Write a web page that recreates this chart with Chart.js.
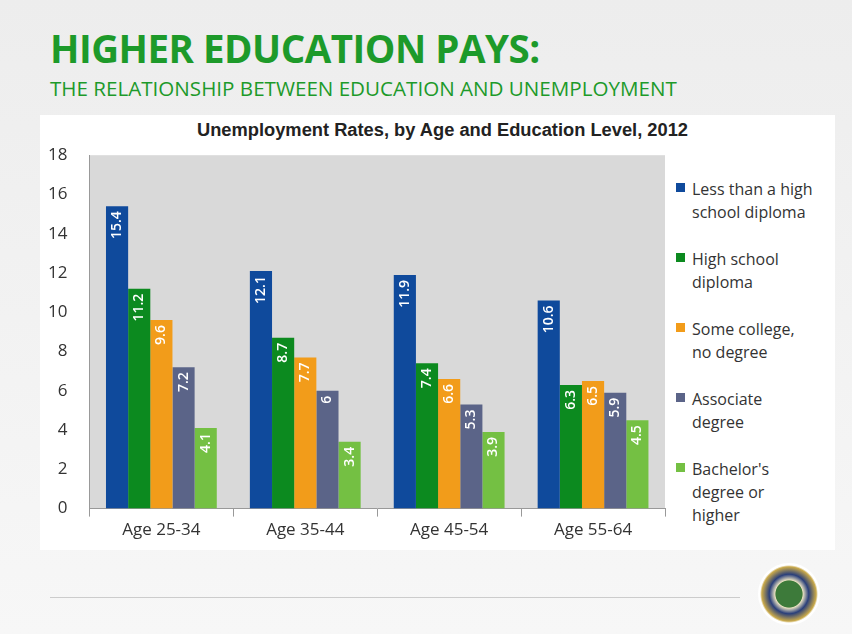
<!DOCTYPE html>
<html><head><meta charset="utf-8">
<script src="https://cdn.jsdelivr.net/npm/chart.js@4"></script>
<style>
body{margin:0;width:852px;height:634px;background:linear-gradient(#ededed,#f7f7f7);font-family:"Open Sans",sans-serif;position:relative;overflow:hidden}
#t1{position:absolute;left:50px;top:22px;font:bold 38.5px "Open Sans";color:#1d9a2a;letter-spacing:-0.5px}
#t2{position:absolute;left:50px;top:74px;font:20.6px "Open Sans";color:#1d9a2a}
#panel{position:absolute;left:40px;top:115px;width:795px;height:435px;background:#fff}
#ct{position:absolute;left:197px;top:119px;font:bold 18.3px "Liberation Sans",Arial;color:#222;white-space:nowrap}
#wrap{position:absolute;left:34px;top:131px;width:636px;height:412px}
#leg{position:absolute;left:676px;top:178px;font:16px "Open Sans";color:#333;line-height:23px}
#leg div{position:relative;padding-left:16px;margin-bottom:24px}
#leg span{position:absolute;left:0;top:5px;width:9px;height:9px}
#line{position:absolute;left:50px;top:597px;width:690px;height:1px;background:#ccc}
#logo{position:absolute;left:758px;top:563px;width:62px;height:62px;border-radius:50%;background:radial-gradient(#3d7a3a 30%,#e8e0c0 32%,#2a3f7a 45%,#c9a94a 62%,#fff 66%)}
</style></head><body>
<div id="t1">HIGHER EDUCATION PAYS:</div>
<div id="t2">THE RELATIONSHIP BETWEEN EDUCATION AND UNEMPLOYMENT</div>
<div id="panel"></div>
<div id="ct">Unemployment Rates, by Age and Education Level, 2012</div>
<div id="wrap"><canvas id="c"></canvas></div>
<div id="leg"></div>
<div id="line"></div>
<div id="logo"></div>
<script>
const categories=["Age 25-34","Age 35-44","Age 45-54","Age 55-64"];
const seriesNames=["Less than a high school diploma","High school diploma","Some college, no degree","Associate degree","Bachelor's degree or higher"];
const legendLines=[["Less than a high","school diploma"],["High school","diploma"],["Some college,","no degree"],["Associate","degree"],["Bachelor's","degree or","higher"]];
const lessHS=[15.4,12.1,11.9,10.6];
const hs=[11.2,8.7,7.4,6.3];
const someCollege=[9.6,7.7,6.6,6.5];
const associate=[7.2,6,5.3,5.9];
const bachelor=[4.1,3.4,3.9,4.5];
const yTicks=[0,2,4,6,8,10,12,14,16,18];
const colors=["#0f4a9c","#0c8a1f","#f29c1a","#5b6488","#74c043"];
const vals=[lessHS,hs,someCollege,associate,bachelor];
document.getElementById('leg').innerHTML=legendLines.map((l,i)=>`<div><span style="background:${colors[i]}"></span>${l.join('<br>')}</div>`).join('');
const bg={id:'bg',beforeDraw(ch){const a=ch.chartArea,x=ch.ctx;x.save();x.fillStyle='#d9d9d9';x.fillRect(a.left,a.top,a.right-a.left,a.bottom-a.top);x.restore();}};
const lab={id:'lab',afterDatasetsDraw(ch){const x=ch.ctx;x.save();x.font='600 14px "Open Sans"';x.fillStyle='#fff';x.textAlign='right';x.textBaseline='middle';
ch.data.datasets.forEach((d,i)=>ch.getDatasetMeta(i).data.forEach((b,j)=>{x.save();x.translate(b.x,b.y+5);x.rotate(-Math.PI/2);x.fillText(String(d.data[j]),0,0);x.restore();}));x.restore();}};
new Chart(document.getElementById('c'),{type:'bar',
data:{labels:categories,datasets:vals.map((v,i)=>({label:seriesNames[i],data:v,backgroundColor:colors[i],categoryPercentage:0.77,barPercentage:1}))},
options:{responsive:true,maintainAspectRatio:false,animation:false,layout:{padding:{top:5,right:5,left:0,bottom:0}},
plugins:{legend:{display:false},tooltip:{enabled:false}},
scales:{y:{min:0,max:18,afterBuildTicks(s){s.ticks=yTicks.map(v=>({value:v}));},ticks:{color:'#333',font:{size:17,family:'Open Sans'},padding:14},grid:{display:false},border:{color:'#999'}},
x:{ticks:{color:'#333',font:{size:17,family:'Open Sans'}},grid:{display:true,drawOnChartArea:false,tickLength:8,offset:true,color:'#999'},border:{color:'#999'}}}},
plugins:[bg,lab]});
</script></body></html>
